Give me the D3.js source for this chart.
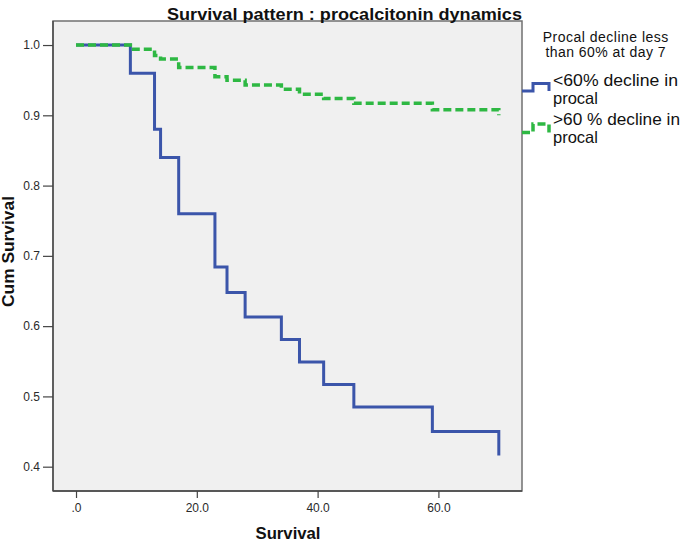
<!DOCTYPE html>
<html>
<head>
<meta charset="utf-8">
<script src="https://cdn.jsdelivr.net/npm/d3@7"></script>
<style>
  html, body { margin: 0; padding: 0; background: #ffffff; }
  svg { display: block; font-family: "Liberation Sans", Arial, sans-serif; }
</style>
</head>
<body>
<svg id="chart" width="685" height="541"></svg>
<script>
// ---- data ----
const titleText = "Survival pattern : procalcitonin dynamics";
const xAxisTitle = "Survival";
const yAxisTitle = "Cum Survival";
const legendTitle = ["Procal decline less", "than 60% at day 7"];
const seriesNames = [["<60% decline in", "procal"], [">60 % decline in", "procal"]];

const xTicks = [0, 20, 40, 60];
const xTickLabels = [".0", "20.0", "40.0", "60.0"];
const yTicks = [0.4, 0.5, 0.6, 0.7, 0.8, 0.9, 1.0];
const yTickLabels = ["0.4", "0.5", "0.6", "0.7", "0.8", "0.9", "1.0"];

// <60% decline
const lowTimes = [0, 9, 13, 14, 17, 23, 25, 28, 34, 37, 41, 46, 59, 70];
const lowSurv  = [1.0, 0.960, 0.880, 0.840, 0.760, 0.684, 0.648, 0.613, 0.581, 0.549, 0.517, 0.485, 0.450, 0.416];
// >60% decline
const highTimes = [0, 9, 13, 14, 17, 23, 25, 28, 34, 37, 41, 46, 59, 70];
const highSurv  = [1.0, 0.994, 0.985, 0.980, 0.968, 0.955, 0.950, 0.943, 0.937, 0.930, 0.924, 0.917, 0.908, 0.900];

const colors = ["#3b55aa", "#2eb843"];

// ---- layout ----
const L = 53, R = 522, T = 21, B = 491;
const svg = d3.select("#chart");

const x = d3.scaleLinear().domain([-3.81, 73.84]).range([L, R]);
const y = d3.scaleLinear().domain([0.3654, 1.0342]).range([B, T]);

// plot background
svg.append("rect").attr("x", L).attr("y", T).attr("width", R - L).attr("height", B - T)
  .attr("fill", "#f0f0f0").attr("stroke", "#707070").attr("stroke-width", 1.5);

// axes
const xAxis = d3.axisBottom(x).tickValues(xTicks).tickSize(7).tickPadding(5)
  .tickFormat((d, i) => xTickLabels[i]);
const gx = svg.append("g").attr("transform", `translate(0,${B})`).call(xAxis);
const yAxis = d3.axisLeft(y).tickValues(yTicks).tickSize(10).tickPadding(3)
  .tickFormat((d, i) => yTickLabels[i]);
const gy = svg.append("g").attr("transform", `translate(${L},0)`).call(yAxis);
[gx, gy].forEach(g => {
  g.select(".domain").attr("stroke", "#444").attr("stroke-width", 1.3);
  g.selectAll(".tick line").attr("stroke", "#444").attr("stroke-width", 1.2);
  g.selectAll(".tick text").attr("fill", "#2a2a2a").style("font-size", "12px")
    .style("font-family", "'Liberation Sans', Arial, sans-serif");
});
gx.select(".domain").attr("d", `M${L},0H${R}`);
gy.select(".domain").attr("d", `M0,${T}V${B}`);

// curves
const line = d3.line().x(d => x(d[0])).y(d => y(d[1])).curve(d3.curveStepAfter);
const lowData = lowTimes.map((t, i) => [t, lowSurv[i]]);
const highData = highTimes.map((t, i) => [t, highSurv[i]]);

svg.append("path").datum(lowData).attr("d", line)
  .attr("fill", "none").attr("stroke", colors[0]).attr("stroke-width", 3)
  .attr("stroke-linejoin", "miter");
svg.append("path").datum(highData).attr("d", line)
  .attr("fill", "none").attr("stroke", colors[1]).attr("stroke-width", 3.5)
  .attr("stroke-dasharray", "8,4");

// title
svg.append("text").attr("x", 344.5).attr("y", 19.5).attr("text-anchor", "middle")
  .style("font-size", "17px").style("font-weight", "bold").attr("fill", "#111")
  .attr("textLength", 355).attr("lengthAdjust", "spacingAndGlyphs").text(titleText);

// axis titles
svg.append("text").attr("x", 288).attr("y", 538.5).attr("text-anchor", "middle")
  .style("font-size", "16px").style("font-weight", "bold").attr("fill", "#111")
  .attr("textLength", 65).attr("lengthAdjust", "spacingAndGlyphs").text(xAxisTitle);
svg.append("text").attr("transform", "translate(13.5,251.5) rotate(-90)").attr("text-anchor", "middle")
  .style("font-size", "16px").style("font-weight", "bold").attr("fill", "#111")
  .attr("textLength", 111).attr("lengthAdjust", "spacingAndGlyphs").text(yAxisTitle);

// legend
const lg = svg.append("g");
const ltY = [41.7, 56.7], ltW = [125.6, 120];
legendTitle.forEach((s, i) => {
  lg.append("text").attr("x", 605.5).attr("y", ltY[i]).attr("text-anchor", "middle")
    .style("font-size", "14px").attr("fill", "#111")
    .attr("textLength", ltW[i]).attr("lengthAdjust", "spacing").text(s);
});
const itemBase = [[85.7, 104], [125.3, 142.7]];
const itemW = [125, 127];
const symLine = d3.line().curve(d3.curveStepAfter);
const symY = [[91, 83.5], [132.5, 124]];
seriesNames.forEach((lines, k) => {
  const lo = symY[k][0], hi = symY[k][1];
  lg.append("path").attr("d", symLine([[522, lo], [533, hi], [549, lo]]))
    .attr("fill", "none").attr("stroke", colors[k]).attr("stroke-width", k ? 3.5 : 3)
    .attr("stroke-dasharray", k ? "8,4" : null);
  lines.forEach((s, j) => {
    const t = lg.append("text").attr("x", 553).attr("y", itemBase[k][j])
      .style("font-size", "16.5px").attr("fill", "#111").text(s);
    if (j === 0) t.attr("textLength", itemW[k]).attr("lengthAdjust", "spacingAndGlyphs");
  });
});
</script>
</body>
</html>
